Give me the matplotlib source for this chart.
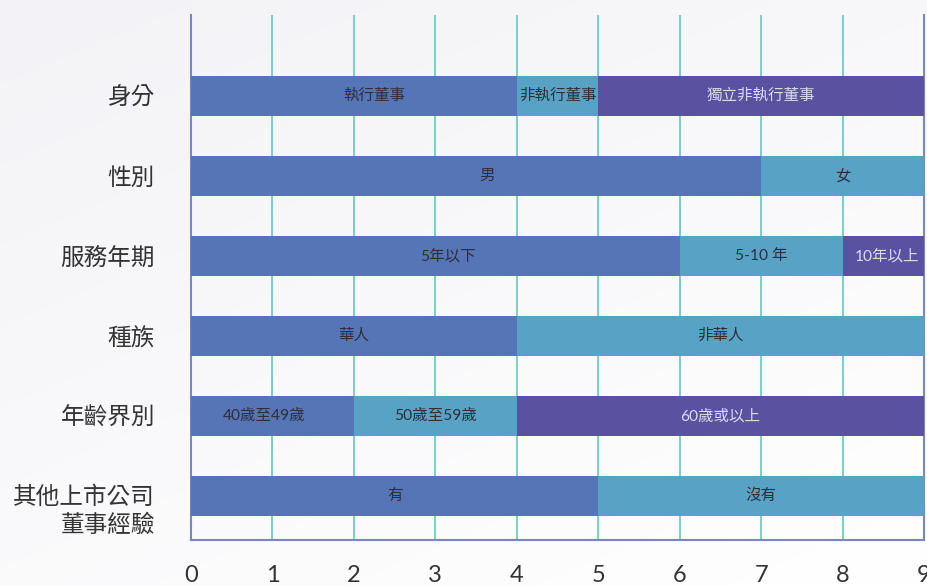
import numpy as np
import matplotlib
matplotlib.use("Agg")
import matplotlib.pyplot as plt
from matplotlib.colors import LinearSegmentedColormap

plt.rcParams['font.family'] = ['Lato', 'Noto Sans CJK TC', 'DejaVu Sans']

categories = ["身分", "性別", "服務年期", "種族", "年齡界別", "其他上市公司\n董事經驗"]
seg_labels = [
    ["執行董事", "非執行董事", "獨立非執行董事"],
    ["男", "女"],
    ["5年以下", "5-10 年", "10年以上"],
    ["華人", "非華人"],
    ["40歲至49歲", "50歲至59歲", "60歲或以上"],
    ["有", "沒有"],
]
seg_values = [
    [4, 1, 4],
    [7, 2],
    [6, 2, 1],
    [4, 5],
    [2, 2, 5],
    [5, 4],
]
x_ticks = [0, 1, 2, 3, 4, 5, 6, 7, 8, 9]

# small horizontal nudges of the in-bar labels (data units), as in the reference
label_nudge = [
    [0.25, 0, 0],
    [0.13, 0],
    [0.16, 0, 0.05],
    [0, 0],
    [-0.1, 0, 0],
    [0, 0],
]

colors = ["#5675b7", "#58a2c5", "#5a52a0"]
text_colors = ["#2e2e3a", "#2e2e3a", "#dcdaf0"]

fig = plt.figure(figsize=(9.28, 5.86), dpi=100)

# background gradient
bg = fig.add_axes([0, 0, 1, 1], zorder=-10)
gx, gy = np.meshgrid(np.linspace(0, 1, 200), np.linspace(0, 1, 200))
grad = np.clip(1 - (0.6 * gy + 0.4 * gx), 0, 1)
cmap = LinearSegmentedColormap.from_list("bg", ["#ffffff", "#f3f3f7"])
bg.imshow(grad, cmap=cmap, extent=[0, 1, 0, 1], aspect='auto', origin='upper')
bg.axis('off')

ax = fig.add_axes([191 / 928, (586 - 540) / 586, (924 - 191) / 928, (540 - 15) / 586])
ax.patch.set_alpha(0)

n = len(categories)
ypos = [n - 1 - i for i in range(n)]
for i, (labels, vals) in enumerate(zip(seg_labels, seg_values)):
    left = 0
    for j, (lab, v) in enumerate(zip(labels, vals)):
        ax.barh(ypos[i], v, left=left, height=0.5, color=colors[j], zorder=3, linewidth=0)
        ax.text(left + v / 2 + label_nudge[i][j], ypos[i], lab, ha='center', va='center',
                fontsize=11.2, color=text_colors[j], zorder=4)
        left += v

ax.set_xlim(0, 9)
ax.set_ylim(-0.55, n - 1 + 1.0125)
ax.set_xticks(x_ticks)
ax.set_xticklabels([str(t) for t in x_ticks], fontsize=17, color="#333333")
ax.set_yticks(ypos)
ytick_texts = []
for i, c in enumerate(categories):
    if "\n" in c:
        ytick_texts.append("")
        # multi-line label: first line sits on the bar centre
        ax.annotate(c, xy=(0, ypos[i]), xycoords=('axes fraction', 'data'),
                    xytext=(-26, -10.4), textcoords='offset points',
                    ha='right', va='center', multialignment='right',
                    fontsize=17, color="#333333", linespacing=1.34)
    else:
        ytick_texts.append(c)
ax.set_yticklabels(ytick_texts, fontsize=17, color="#333333")
ax.tick_params(axis='x', length=0, pad=18)
ax.tick_params(axis='y', length=0, pad=26)
ax.grid(axis='x', color="#5fcbc0", linewidth=1.2, zorder=1)
ax.grid(axis='y', visible=False)
for s in ['left', 'bottom', 'right']:
    ax.spines[s].set_color("#7b84c4")
    ax.spines[s].set_linewidth(1.5)
ax.spines['top'].set_visible(False)
ax.set_axisbelow(True)

fig.savefig("out.png", dpi=100)
